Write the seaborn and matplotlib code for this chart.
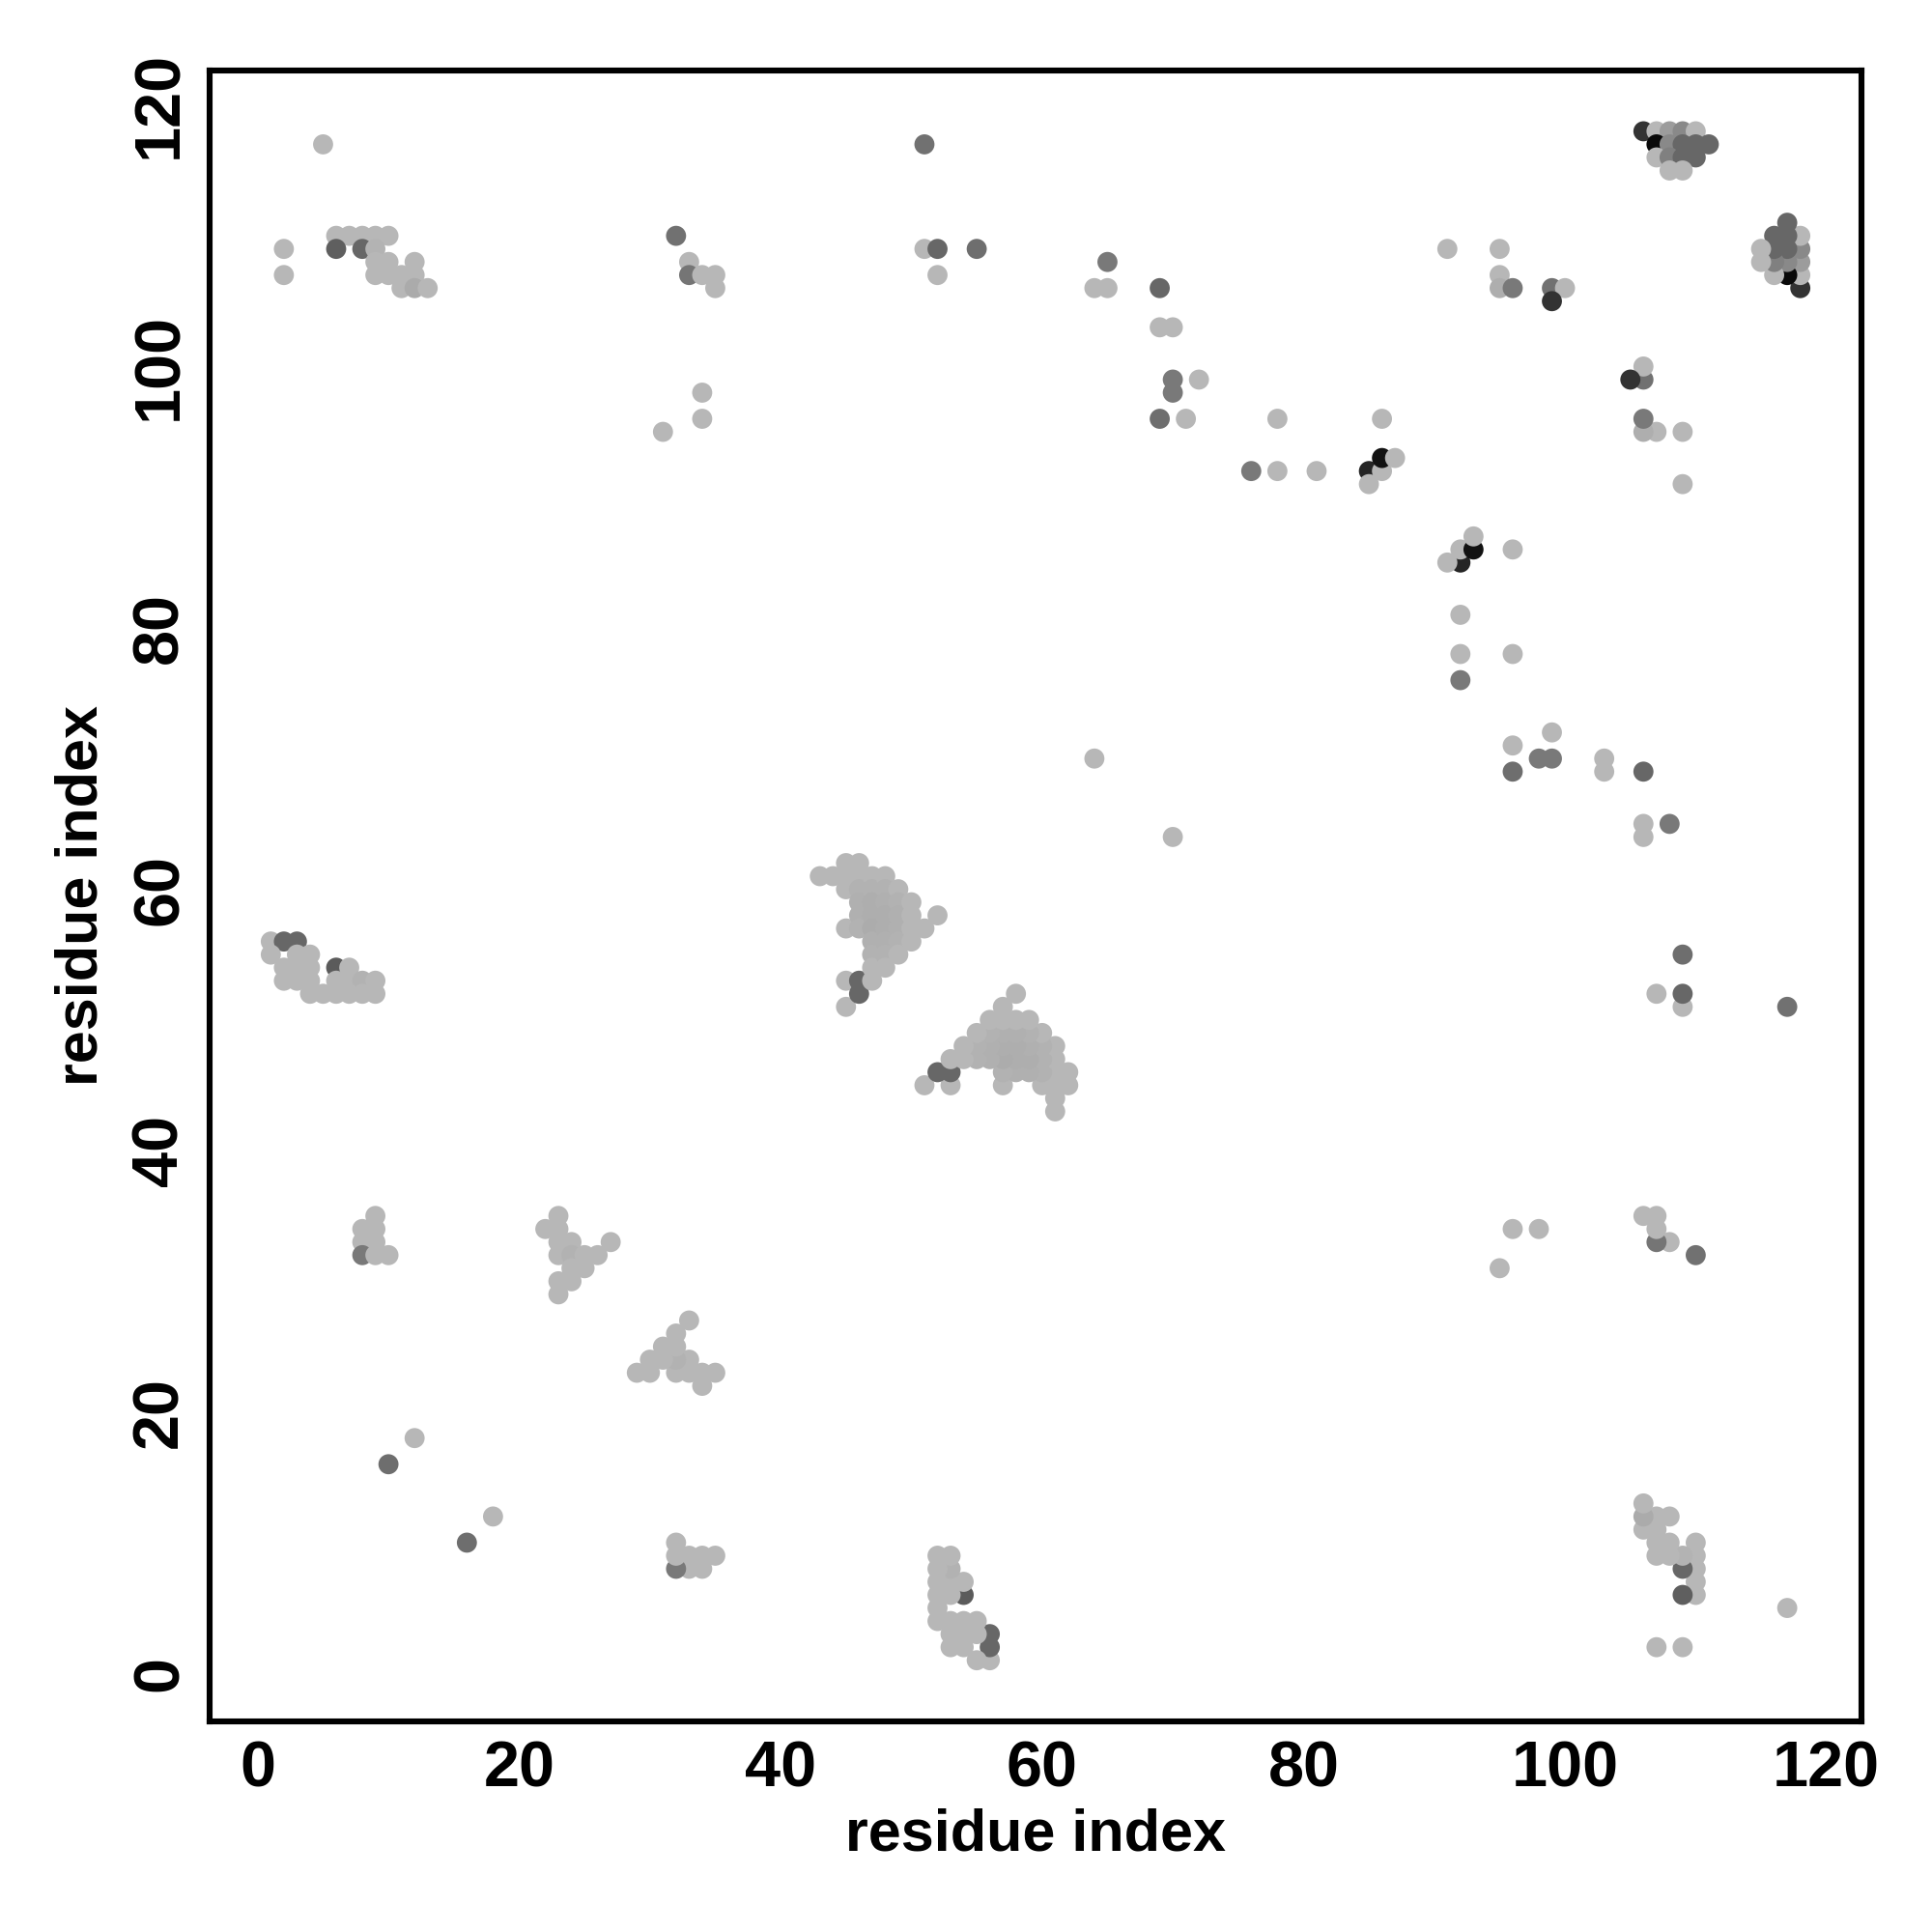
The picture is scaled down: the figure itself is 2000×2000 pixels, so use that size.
import numpy as np
import pandas as pd
import matplotlib

matplotlib.use("Agg")
import matplotlib.pyplot as plt
from matplotlib.colors import LinearSegmentedColormap
import seaborn as sns

# contacts read off the upper triangle (residue_j > residue_i); the map is symmetric
# top-left block
res_i = [5, 2, 2, 6, 7, 8, 9, 10, 6, 8, 9, 9, 10, 12, 9, 10, 11, 12, 11, 12, 13]
res_j = [117, 109, 107, 110, 110, 110, 110, 110, 109, 109, 109, 108, 108, 108, 107, 107, 107, 107, 106, 106, 106]
strength = [0, 0, 0, 0, 0, 0, 0, 0, 0.48, 0.44, 0.02, 0, 0, 0, 0, 0, 0, 0, 0, 0.07, 0]

# residues 31-35 vs 95-110
res_i += [32, 33, 33, 34, 35, 35, 34, 34, 31]
res_j += [110, 108, 107, 107, 107, 106, 98, 96, 95]
strength += [0.38, 0, 0.36, 0, 0, 0, 0, 0, 0]

# residues 51-55 vs 107-117
res_i += [51, 51, 52, 55, 52]
res_j += [117, 109, 109, 109, 107]
strength += [0.38, 0, 0.44, 0.4, 0]

# residues 64-72 vs 96-108
res_i += [65, 64, 65, 69, 69, 70, 70, 70, 72, 69, 71]
res_j += [108, 106, 106, 106, 103, 103, 99, 98, 99, 96, 96]
strength += [0.34, 0, 0, 0.44, 0, 0, 0.34, 0.34, 0, 0.4, 0]

# residues 76-87 vs 91-96
res_i += [78, 86, 76, 78, 81, 85, 86, 86, 87, 85]
res_j += [96, 96, 92, 92, 92, 92, 92, 93, 93, 91]
strength += [0, 0, 0.34, 0, 0, 0.8, 0, 0.9, 0, 0]

# residues 91-100 vs 105-109
res_i += [91, 95, 95, 95, 96, 99, 100, 99]
res_j += [109, 109, 107, 106, 106, 106, 106, 105]
strength += [0, 0, 0, 0.05, 0.34, 0.38, 0, 0.72]

# C-terminal block 106-111 vs 115-118
res_i += [106, 107, 108, 109, 110, 107, 108, 109, 110, 111, 107, 108, 109, 110, 108, 109]
res_j += [118, 118, 118, 118, 118, 117, 117, 117, 117, 117, 116, 116, 116, 116, 115, 115]
strength += [0.72, 0, 0.15, 0.25, 0, 0.95, 0.25, 0.44, 0.44, 0.44, 0, 0.3, 0.44, 0.44, 0, 0]

# single contact 64-70
res_i += [64]
res_j += [70]
strength += [0]

# N-terminus vs 52-56
res_i += [1, 2, 3, 1, 3, 4, 2, 3, 4, 6, 7, 2, 3, 4, 6, 7, 8, 9, 4, 5, 6, 7, 8, 9]
res_j += [56, 56, 56, 55, 55, 55, 54, 54, 54, 54, 54, 53, 53, 53, 53, 53, 53, 53, 52, 52, 52, 52, 52, 52]
strength += [0, 0.44, 0.44, 0, 0, 0, 0, 0, 0, 0.5, 0, 0, 0, 0, 0, 0, 0.03, 0, 0, 0, 0, 0, 0, 0]

# hairpin 43-52 vs 51-62
res_i += [43, 44]
res_j += [61, 61]
strength += [0, 0]
res_i += [45, 45, 45, 45, 45, 45]
res_j += [62, 61, 60, 57, 53, 51]
strength += [0, 0, 0, 0, 0, 0]
res_i += [46, 46, 46, 46, 46, 46, 46, 46]
res_j += [62, 61, 60, 59, 58, 57, 53, 52]
strength += [0, 0, 0.03, 0.04, 0.04, 0.03, 0.44, 0.44]
res_i += [47, 47, 47, 47, 47, 47, 47, 47, 47]
res_j += [61, 60, 59, 58, 57, 56, 55, 54, 53]
strength += [0, 0.03, 0.05, 0.05, 0.06, 0.04, 0.03, 0, 0]
res_i += [48, 48, 48, 48, 48, 48, 48, 48]
res_j += [61, 60, 59, 58, 57, 56, 55, 54]
strength += [0, 0.03, 0.04, 0.05, 0.05, 0.04, 0.03, 0]
res_i += [49, 49, 49, 49, 49, 49]
res_j += [60, 59, 58, 57, 56, 55]
strength += [0, 0.03, 0.04, 0.04, 0.03, 0]
res_i += [50, 50, 50, 50, 51, 52]
res_j += [59, 58, 57, 56, 57, 58]
strength += [0, 0, 0, 0, 0, 0]

# residues 8-10 vs 32-35
res_i += [9, 8, 9, 8, 9, 8, 9, 10]
res_j += [35, 34, 34, 33, 33, 32, 32, 32]
strength += [0, 0, 0, 0, 0, 0.34, 0, 0]

# residues 22-27 vs 29-35
res_i += [23, 22, 23, 23, 24, 27, 23, 24, 25, 26, 24, 25, 23, 24, 23]
res_j += [35, 34, 34, 33, 33, 33, 32, 32, 32, 32, 31, 31, 30, 30, 29]
strength += [0, 0, 0, 0, 0, 0, 0, 0.03, 0, 0, 0, 0, 0, 0, 0]

# short-range pairs
res_i += [10, 12]
res_j += [16, 18]
strength += [0.4, 0]

upper = pd.DataFrame({"i": res_i, "j": res_j, "strength": strength})
lower = upper.rename(columns={"i": "j", "j": "i"})
df = pd.concat([upper, lower], ignore_index=True)

# light grey for weak contacts, black for the strongest
cmap = LinearSegmentedColormap.from_list("contact", ["#b7b7b7", "#000000"])

sns.set_style("white")
plt.rcParams["font.family"] = ["Liberation Sans", "DejaVu Sans"]
plt.rcParams["font.weight"] = "bold"
plt.rcParams["text.color"] = "black"
plt.rcParams["axes.labelcolor"] = "black"

fig = plt.figure(figsize=(10, 10), dpi=200)
ax = fig.add_axes([0.1085, 0.109, 0.855, 0.8547])

sns.scatterplot(
    data=df,
    x="i",
    y="j",
    hue="strength",
    palette=cmap,
    hue_norm=(0, 1),
    s=56,
    linewidth=0,
    legend=False,
    ax=ax,
)

ax.set_xlim(-3.68, 122.68)
ax.set_ylim(-3.68, 122.68)
ticks = [0, 20, 40, 60, 80, 100, 120]
ax.set_xticks(ticks)
ax.set_yticks(ticks)
ax.set_xticklabels([str(t) for t in ticks], fontsize=24, fontweight="bold")
ax.set_yticklabels([str(t) for t in ticks], fontsize=24, fontweight="bold",
                   rotation=90, va="center")
ax.tick_params(direction="out", length=5, width=1.6, pad=2, colors="black")
for sp in ax.spines.values():
    sp.set_linewidth(2.2)
    sp.set_color("black")

ax.set_xlabel("residue index", fontsize=22, fontweight="bold", labelpad=3)
ax.set_ylabel("residue index", fontsize=22, fontweight="bold", labelpad=8)

fig.savefig("out.png", dpi=200, facecolor="white")
